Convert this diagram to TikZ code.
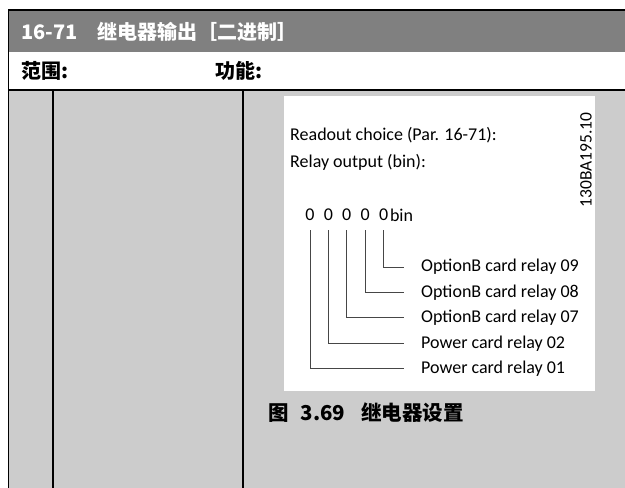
\documentclass[tikz,border=0pt]{standalone}
\usepackage{fontspec}
\setmainfont{Carlito}
\newfontfamily\cjk{Noto Sans CJK SC}
\usetikzlibrary{positioning}
\definecolor{hdGray}{RGB}{128,128,128}
\definecolor{bodyGray}{RGB}{204,204,204}
\definecolor{lnInk}{RGB}{70,70,70}

\begin{document}
\begin{tikzpicture}[x=1pt,y=-1pt,
  rule/.style={draw=black,line width=1.6pt},
  head/.style={anchor=west,inner sep=0pt,font=\cjk\bfseries\fontsize{20}{20}\selectfont},
  txt/.style={anchor=west,inner sep=0pt,font=\fontsize{18}{18}\selectfont},
  dig/.style={inner sep=0pt,minimum width=18pt,minimum height=30pt,font=\fontsize{18}{18}\selectfont},
  lbl/.style={anchor=west,inner xsep=17pt,inner ysep=0pt,minimum height=25pt,font=\fontsize{18}{18}\selectfont},
  conn/.style={draw=lnInk,line width=0.8pt}]
\useasboundingbox (0,0) rectangle (625,488);
\fill[white] (0,0) rectangle (625,488);
% table frame
\fill[hdGray] (8,10) rectangle (625,52);
\fill[bodyGray] (8,90) rectangle (625,488);
\draw[rule] (8,10) -- (625,10);
\draw[rule] (8,90) -- (625,90);
\draw[rule] (8.5,10) -- (8.5,488);
\draw[rule] (53,90) -- (53,488);
\draw[rule] (243,90) -- (243,488);
\node[head,text=white] (title) at (21,32) {16-71\hspace{20pt}继电器输出［二进制］};
\node[head] (range) at (21,71) {范围:};
\node[head] (func) at (215,71) {功能:};
% figure
\fill[white] (284,96) rectangle (595,391);
\node[txt] (choice) at (290,135) {Readout choice (Par. 16-71):};
\node[txt] (relay) at (290,162) {Relay output (bin):};
\node[rotate=90,inner sep=0pt,font=\fontsize{17.5}{17.5}\selectfont] (code) at (586,160) {130BA195.10};
\node[dig] (d1) at (310,215) {0};
\node[dig,right=0pt of d1] (d2) {0};
\node[dig,right=0pt of d2] (d3) {0};
\node[dig,right=0pt of d3] (d4) {0};
\node[dig,right=0pt of d4] (d5) {0};
\node[dig,minimum width=0pt,right=-3pt of d5] (bin) {bin};
\node[lbl] (r09) at (404,267) {OptionB card relay 09};
\node[lbl,below=0pt of r09.south west,anchor=north west] (r08) {OptionB card relay 08};
\node[lbl,below=0pt of r08.south west,anchor=north west] (r07) {OptionB card relay 07};
\node[lbl,below=0pt of r07.south west,anchor=north west] (r02) {Power card relay 02};
\node[lbl,below=0pt of r02.south west,anchor=north west] (r01) {Power card relay 01};
\draw[conn] (d5.south) |- (r09.west);
\draw[conn] (d4.south) |- (r08.west);
\draw[conn] (d3.south) |- (r07.west);
\draw[conn] (d2.south) |- (r02.west);
\draw[conn] (d1.south) |- (r01.west);
\node[head,font=\cjk\bfseries\fontsize{20.5}{20.5}\selectfont] (caption) at (268,413) {图\hspace{12pt}3.69\hspace{16pt}继电器设置};
\end{tikzpicture}
\end{document}
